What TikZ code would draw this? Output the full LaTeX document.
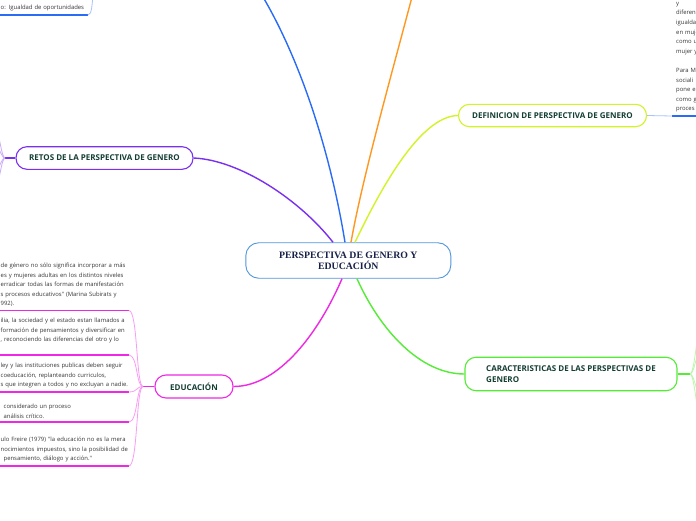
\documentclass[tikz,border=0pt]{standalone}
\usepackage{fontspec}
\usepackage{xcolor}
\usetikzlibrary{math}
\newfontfamily\mapfont{Open Sans}
\newfontfamily\titlefont{Liberation Serif}
\definecolor{mytitle}{RGB}{22,32,72}
\definecolor{mytext}{RGB}{20,62,50}
\definecolor{myleaf}{RGB}{55,55,55}
\definecolor{mycentral}{RGB}{82,150,220}
\definecolor{myblue}{RGB}{43,108,246}
\definecolor{myorange}{RGB}{255,152,32}
\definecolor{mylime}{RGB}{212,242,40}
\definecolor{mypurple}{RGB}{122,48,240}
\definecolor{mymagenta}{RGB}{238,40,228}
\definecolor{mygreen}{RGB}{84,236,52}

\tikzset{
central/.style={draw=mycentral, line width=0.9pt, fill=white, rounded corners=13pt, minimum width=205pt, minimum height=35.5pt, align=center, text=mytitle, font=\titlefont\bfseries\fontsize{9.8}{11.3}\selectfont},
topic/.style={draw=#1, line width=1.1pt, fill=white, rounded corners=11pt, text=mytext, font=\mapfont\bfseries\fontsize{8}{11}\selectfont},
leaf/.style={inner xsep=0.5pt, inner ysep=3.5pt, text width=127.5pt, align=left, text=myleaf, font=\mapfont\fontsize{5.9}{9.6}\selectfont},
branch/.style={draw=#1, line width=1.4pt},
twig/.style={draw=#1, line width=0.8pt}
}

\begin{document}
\begin{tikzpicture}[x=1pt,y=-1pt]
\tikzmath{
\fx=143; % fan of EDUCACION
\fy=386.5;
}
\fill[white] (0,0) rectangle (696,520);
\useasboundingbox (0,0) rectangle (696,520);

%central
\node[central] (central) at (348.3,260.5) {PERSPECTIVA DE GENERO Y\\EDUCACIÓN};

%topics
\node[topic=mylime, minimum width=188pt, minimum height=22.4pt] (def) at (552.5,115.5) {DEFINICION DE PERSPECTIVA DE GENERO};
\node[topic=mypurple, minimum width=177pt, minimum height=22.6pt] (retos) at (104.5,158) {RETOS DE LA PERSPECTIVA DE GENERO};
\node[topic=mymagenta, minimum width=78pt, minimum height=23pt] (edu) at (194,386.5) {EDUCACIÓN};
\node[topic=mygreen, minimum width=212pt, minimum height=33.5pt, align=left] (car) at (571,374) {CARACTERISTICAS DE LAS PERSPECTIVAS DE\\GENERO};

%off-screen ends
\coordinate (blue-top) at (263,-3);
\coordinate (orange-top) at (412,-3);
\coordinate (blue-up) at (93,-4);

%branches
\draw[branch=myblue] ([xshift=-3.3pt]central.north) .. controls (330,150) and (300,60) .. (blue-top);
\draw[branch=myorange] ([xshift=2.7pt]central.north) .. controls (362,180) and (390,80) .. (orange-top);
\draw[branch=mylime] ([xshift=6.7pt]central.north) .. controls (380,190) and (420,116) .. (def.west);
\draw[branch=mypurple] ([xshift=-15.3pt]central.north) .. controls (300,200) and (240,160) .. (retos.east);
\draw[branch=mymagenta] ([xshift=-6.3pt]central.south) .. controls (320,330) and (280,386.5) .. (edu.east);
\draw[branch=mygreen] ([xshift=8.7pt]central.south) .. controls (380,330) and (420,374) .. (car.west);

%leaves of EDUCACION
\node[leaf, anchor=south west] (l1) at (0,310.5) {de género no sólo significa incorporar a más\\es y mujeres adultas en los distintos niveles\\erradicar todas las formas de manifestación\\s procesos educativos" (Marina Subirats y\\992).};
\node[leaf, anchor=south west] (l2) at (0,355) {ilia, la sociedad y el estado estan llamados a\\formación de pensamientos y diversificar en\\, reconociendo las diferencias del otro y lo\\\mbox{}};
\node[leaf, anchor=south west] (l3) at (0,392) {ley y las instituciones publicas deben seguir\\coeducación, replanteando curriculos,\\s que integren a todos y no excluyan a nadie.};
\node[leaf, anchor=south west] (l4) at (0,422) {\hspace{3pt}considerado un proceso\\\hspace{3pt}análisis crítico.};
\node[leaf, anchor=south west] (l5) at (0,466) {ulo Freire (1979) "la educación no es la mera\\nocimientos impuestos, sino la posibilidad de\\\hspace{3pt}pensamiento, diálogo y acción."};

\coordinate (edu-fan) at (\fx,\fy);
\draw[branch=mymagenta, line width=1.1pt] (edu.west) -- (edu-fan);
\foreach \l in {l1,l2,l3,l4,l5}{
\draw[mymagenta, line width=1.1pt] (\l.south west) -- (\l.south east);
\draw[twig=mymagenta!45] (edu-fan) .. controls +(-7,0) and +(9,0) .. (\l.south east);
}

%leaf of the blue branch
\node[leaf, anchor=south west, text width=86.5pt] (tl) at (0,15) {o: Igualdad de oportunidades};
\draw[myblue, line width=1.1pt] (tl.south west) -- (tl.south east);
\draw[twig=myblue!40] (tl.south east) .. controls +(4,0) and +(-1,8) .. (blue-up);

%leaf of DEFINICION
\node[leaf, anchor=south west, inner xsep=4pt, text width=40pt] (tr) at (672,116) {y\\diferen\\igualda\\en muje\\como u\\mujer y\\\mbox{}\\Para M\\sociali\\pone e\\como g\\proces};
\draw[myblue, line width=1.5pt] (tr.south west) -- (tr.south east);
\draw[twig=myblue!40] (def.east) -- (tr.south west);

%fan of RETOS
\coordinate (retos-fan) at (5,158);
\draw[branch=mypurple, line width=1.1pt] (retos.west) -- (retos-fan);
\foreach \y in {126,144,172,190}{
\coordinate (r) at (-6,\y);
\draw[twig=mypurple!40] (retos-fan) .. controls +(-4,0) and +(5,0) .. (r);
}

%fan of CARACTERISTICAS
\coordinate (car-fan) at (690,374);
\draw[branch=mygreen, line width=1.1pt] (car.east) -- (car-fan);
\foreach \y in {318,343,402,428}{
\coordinate (c) at (702,\y);
\draw[twig=mygreen!40] (car-fan) .. controls +(5,0) and +(-4,0) .. (c);
}
\end{tikzpicture}
\end{document}
